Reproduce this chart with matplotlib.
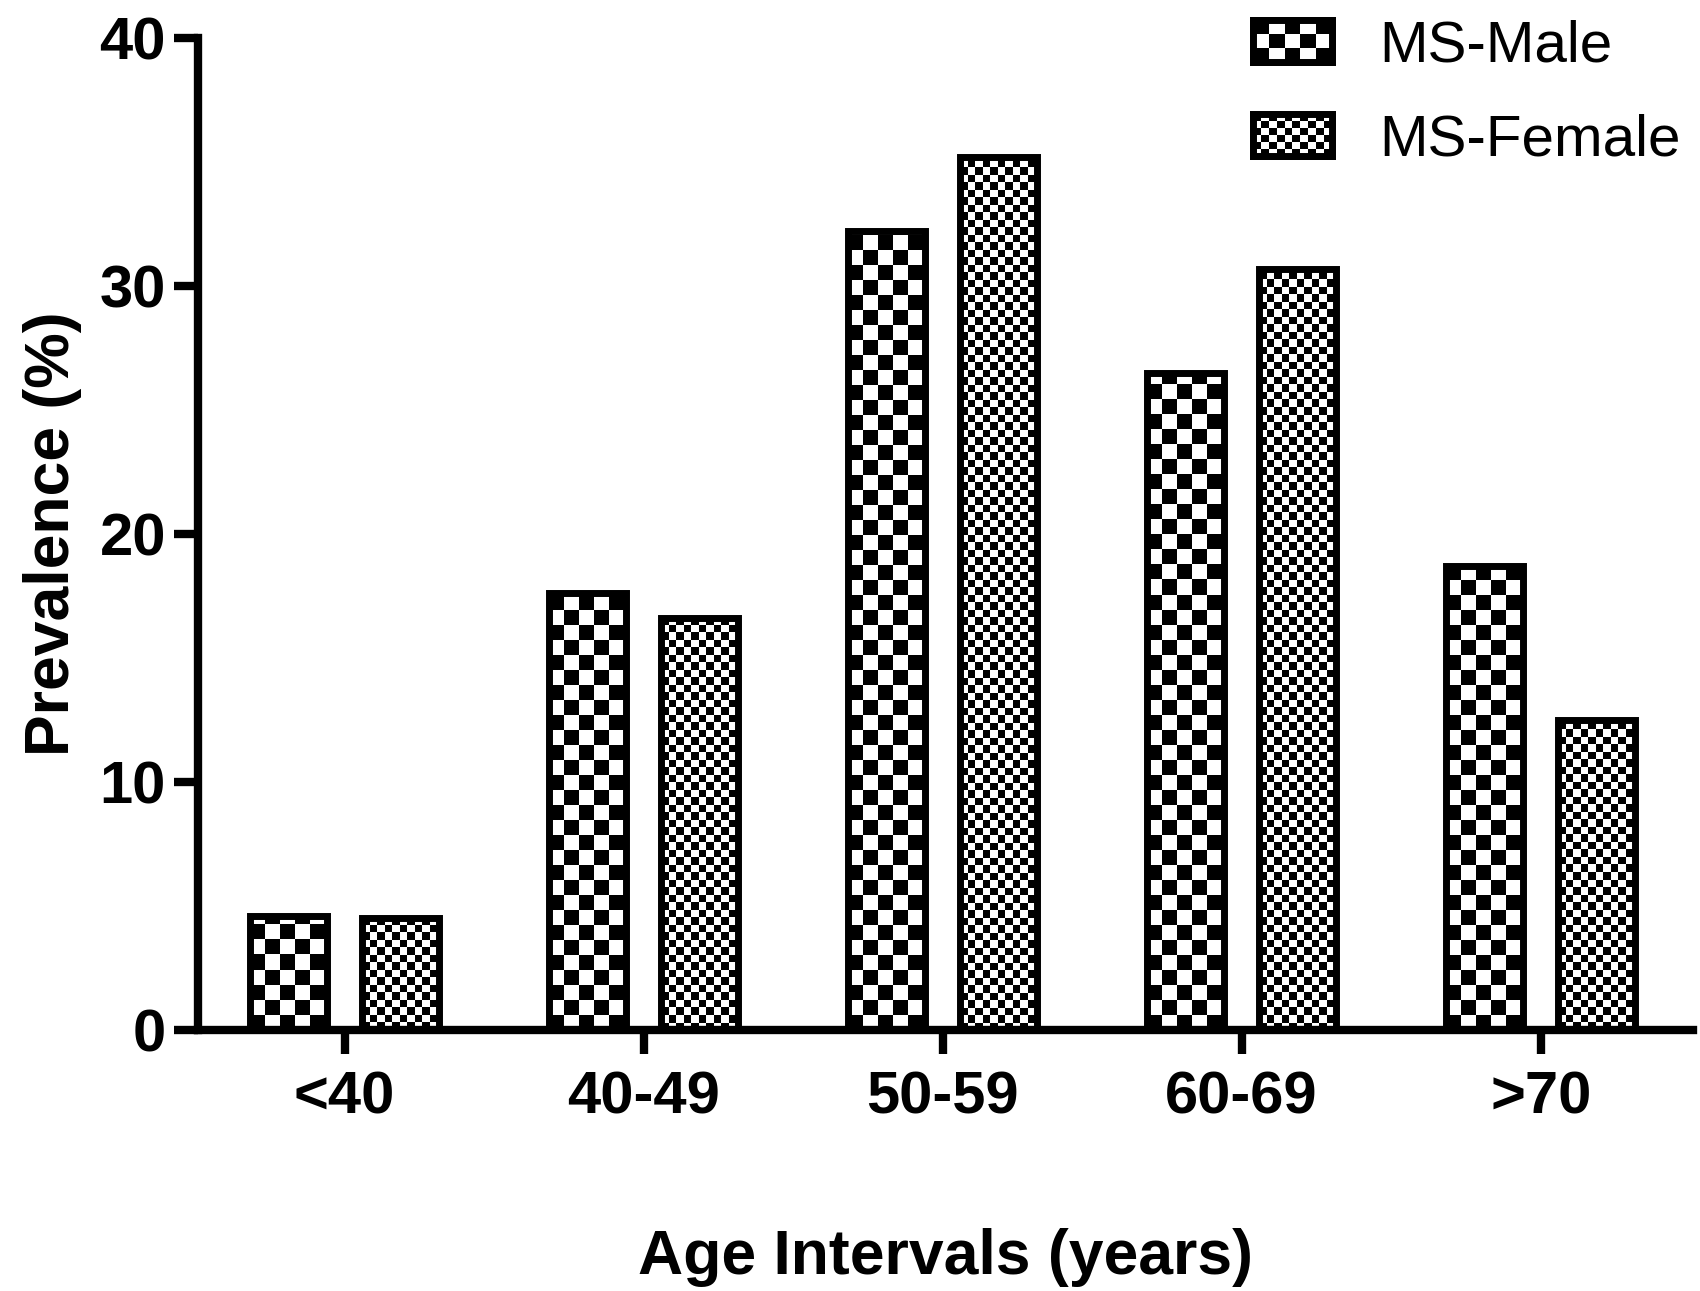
import numpy as np
import matplotlib
matplotlib.use("Agg")
import matplotlib.pyplot as plt
from matplotlib.patches import Patch

categories = ["<40", "40-49", "50-59", "60-69", ">70"]
male = [4.6, 17.6, 32.2, 26.5, 18.7]
female = [4.5, 16.6, 35.2, 30.7, 12.5]
series_names = ["MS-Male", "MS-Female"]

plt.rcParams["font.family"] = ["Liberation Sans", "DejaVu Sans"]

fig = plt.figure(figsize=(17, 12.91), dpi=100)
ax = fig.add_axes([0.1165, 0.2022, 0.8795, 0.7684])

x = np.arange(len(categories))
width = 0.257
offset = 0.187


def checker(nx, ny):
    return np.indices((ny, nx)).sum(axis=0) % 2


def fill_checker(ax, patch, cell):
    # checkerboard with cells of `cell` pixels, clipped to the bar
    bb = patch.get_window_extent()
    nx = int(np.ceil(bb.width / cell)) + 1
    ny = int(np.ceil(bb.height / cell)) + 1
    inv = ax.transData.inverted()
    x0, y0 = inv.transform((bb.x0, bb.y0))
    x1, y1 = inv.transform((bb.x0 + nx * cell, bb.y0 + ny * cell))
    im = ax.imshow(checker(nx, ny), cmap="gray", origin="lower",
                   extent=(x0, x1, y0, y1), interpolation="nearest",
                   aspect="auto", zorder=2, vmin=0, vmax=1)
    im.set_clip_path(patch)


ax.set_xlim(-0.49, 4.51)
ax.set_ylim(0, 40)

bars_m = ax.bar(x - offset, male, width, facecolor="none",
                edgecolor="black", linewidth=5, zorder=3)
bars_f = ax.bar(x + offset, female, width, facecolor="none",
                edgecolor="black", linewidth=5, zorder=3)

for p in bars_m:
    fill_checker(ax, p, 15)
for p in bars_f:
    fill_checker(ax, p, 7.5)

ax.set_xlim(-0.49, 4.51)
ax.set_ylim(0, 40)

for s in ["top", "right"]:
    ax.spines[s].set_visible(False)
for s in ["left", "bottom"]:
    ax.spines[s].set_linewidth(6)
    ax.spines[s].set_capstyle("projecting")

ax.set_xticks(x)
ax.set_xticklabels(categories)
ax.set_yticks([0, 10, 20, 30, 40])
ax.tick_params(axis="both", direction="out", length=17, width=6,
               labelsize=43, pad=6)
ax.tick_params(axis="x", pad=12)
for lab in ax.get_xticklabels() + ax.get_yticklabels():
    lab.set_fontweight("bold")

ax.set_xlabel("Age Intervals (years)", fontsize=45, fontweight="bold",
              labelpad=74)
ax.set_ylabel("Prevalence (%)", fontsize=45, fontweight="bold", labelpad=13)

# legend, patterned afterwards
handles = [Patch(facecolor="white", edgecolor="black", linewidth=5),
           Patch(facecolor="white", edgecolor="black", linewidth=5)]
leg = ax.legend(handles, series_names, loc="upper right",
                bbox_to_anchor=(1.007, 1.042), frameon=False, fontsize=42,
                handlelength=1.35, handleheight=0.72, handletextpad=0.8,
                labelspacing=0.68, borderaxespad=0)
fig.canvas.draw()
for h, cell in zip(leg.legend_handles, [15, 7.5]):
    bb = h.get_window_extent()
    fw, fh = fig.bbox.width, fig.bbox.height
    lax = fig.add_axes([bb.x0 / fw, bb.y0 / fh, bb.width / fw, bb.height / fh])
    nx = int(round(bb.width / cell))
    ny = int(round(bb.height / cell))
    lax.imshow(checker(nx, ny), cmap="gray", interpolation="nearest",
               aspect="auto", vmin=0, vmax=1)
    lax.set_xticks([])
    lax.set_yticks([])
    for s in lax.spines.values():
        s.set_linewidth(5)

fig.savefig("out.png", dpi=100)
